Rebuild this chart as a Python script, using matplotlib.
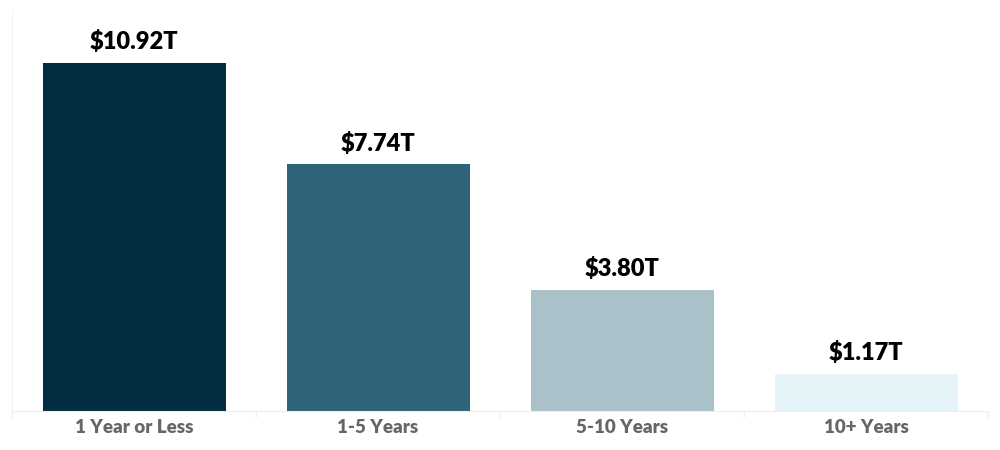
import matplotlib
matplotlib.use("Agg")
import matplotlib.pyplot as plt

categories = ["1 Year or Less", "1-5 Years", "5-10 Years", "10+ Years"]
values = [10.92, 7.74, 3.80, 1.17]
value_labels = ["$10.92T", "$7.74T", "$3.80T", "$1.17T"]
colors = ["#022C42", "#2F6377", "#ABC1C9", "#E4F4F9"]

plt.rcParams['font.family'] = ['Lato', 'DejaVu Sans']

fig = plt.figure(figsize=(10, 4.5), dpi=100)
ax = fig.add_axes([0.012, 0.0867, 0.976, 0.891])

x = list(range(len(categories)))
ax.bar(x, values, width=0.75, color=colors, zorder=2)
ax.set_xlim(-0.5, len(categories) - 0.5)
ax.set_ylim(0, 12.58)

for xi, v, lab in zip(x, values, value_labels):
    ax.text(xi, v + 0.3, lab, ha='center', va='bottom', fontsize=17,
            fontweight='heavy', color='#000000')

ax.set_xticks(x)
ax.set_xticklabels(categories, fontsize=13.5, fontweight='heavy', color='#666666')
ax.tick_params(axis='x', length=0, pad=6)
ax.set_yticks([])
ax.set_xticks([-0.5, 0.5, 1.5, 2.5, 3.5], minor=True)
ax.tick_params(axis='x', which='minor', length=4, color='#EEEEEE', width=1)

for s in ['top', 'right']:
    ax.spines[s].set_visible(False)
ax.spines['bottom'].set_color('#EEEEEE')
ax.spines['left'].set_color('#F2F2F2')

fig.savefig("out.png", dpi=100, facecolor='white')
